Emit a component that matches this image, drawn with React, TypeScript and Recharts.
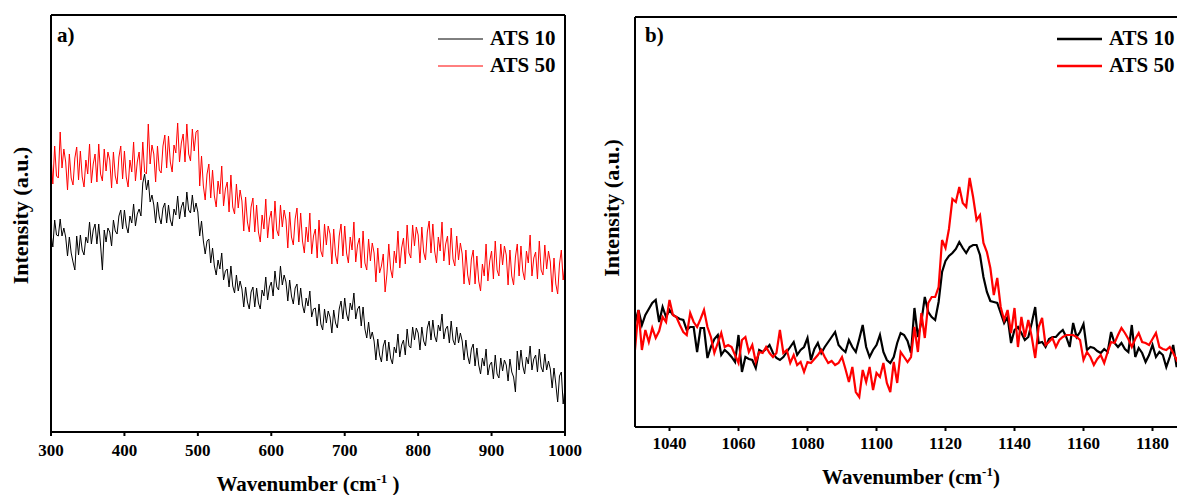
import React from 'react';
import { LineChart, Line, XAxis, YAxis, Legend, Label } from 'recharts';

const SERIF = '"Liberation Serif", "Times New Roman", serif';

// panel a) survey spectrum, 300-1000 cm-1, one sample every 2.5 cm-1
const waveStartA = 300;
const waveStepA = 2.5;
const ats10A = [
  198, 185, 212, 197, 196, 213, 196, 204, 195, 176, 195, 179, 170, 162, 196, 177,
  197, 182, 177, 195, 189, 210, 188, 202, 208, 188, 208, 187, 162, 202, 190, 204,
  200, 186, 212, 201, 198, 216, 222, 203, 222, 206, 199, 216, 209, 228, 206, 218,
  223, 216, 249, 258, 242, 252, 230, 237, 227, 209, 230, 215, 208, 224, 229, 209,
  227, 212, 206, 223, 217, 236, 213, 225, 230, 215, 240, 222, 219, 237, 220, 229,
  220, 196, 211, 191, 178, 191, 193, 169, 184, 166, 157, 172, 163, 179, 152, 161,
  163, 145, 166, 146, 139, 157, 141, 151, 143, 125, 145, 130, 123, 140, 145, 125,
  144, 129, 123, 142, 136, 155, 132, 145, 150, 136, 161, 145, 142, 166, 147, 157,
  150, 131, 152, 136, 128, 144, 148, 127, 144, 127, 119, 134, 126, 141, 115, 123,
  124, 106, 128, 108, 102, 123, 109, 121, 115, 99, 122, 109, 104, 123, 131, 113,
  134, 118, 111, 129, 122, 139, 113, 123, 126, 106, 125, 103, 94, 110, 93, 100,
  91, 72, 93, 77, 70, 86, 92, 71, 90, 74, 68, 85, 79, 98, 75, 87,
  92, 77, 103, 86, 84, 105, 92, 104, 99, 82, 105, 91, 86, 104, 111, 92,
  112, 96, 90, 107, 101, 118, 93, 103, 106, 89, 111, 92, 87, 105, 89, 99,
  91, 72, 92, 76, 68, 83, 88, 66, 84, 67, 58, 74, 66, 83, 57, 67,
  70, 53, 77, 58, 54, 74, 61, 72, 67, 51, 73, 60, 55, 40, 81, 62,
  82, 66, 58, 75, 68, 86, 62, 73, 77, 60, 83, 65, 60, 78, 62, 71,
  63, 44, 64, 48, 30, 56, 60, 28, 44,
];
const ats50A = [
  276, 248, 286, 256, 254, 300, 264, 283, 270, 242, 278, 254, 247, 274, 285, 252,
  281, 255, 245, 272, 258, 288, 249, 268, 278, 250, 288, 258, 251, 283, 261, 280,
  272, 244, 280, 256, 248, 275, 286, 253, 281, 255, 245, 272, 260, 290, 251, 270,
  280, 252, 290, 260, 258, 308, 268, 287, 278, 250, 286, 262, 259, 286, 297, 264,
  296, 270, 260, 287, 279, 309, 270, 289, 298, 270, 308, 278, 271, 303, 281, 300,
  302, 246, 276, 246, 232, 258, 268, 234, 262, 236, 225, 251, 238, 266, 226, 243,
  250, 220, 257, 225, 218, 248, 224, 242, 231, 201, 235, 210, 200, 225, 234, 200,
  227, 200, 190, 217, 203, 233, 194, 213, 221, 193, 231, 202, 196, 227, 205, 222,
  212, 184, 220, 195, 187, 213, 224, 190, 219, 191, 179, 205, 190, 219, 178, 196,
  203, 174, 212, 181, 175, 208, 187, 206, 198, 168, 203, 177, 168, 196, 208, 176,
  206, 179, 169, 195, 182, 210, 170, 187, 194, 164, 201, 169, 162, 193, 171, 189,
  179, 150, 184, 159, 166, 178, 140, 158, 188, 163, 154, 181, 169, 201, 164, 184,
  194, 168, 207, 179, 174, 207, 186, 205, 197, 169, 205, 180, 172, 200, 211, 179,
  208, 181, 169, 195, 181, 210, 171, 188, 196, 167, 204, 173, 166, 196, 172, 189,
  178, 148, 182, 157, 147, 173, 182, 148, 176, 151, 141, 168, 156, 188, 151, 171,
  181, 153, 191, 162, 156, 188, 167, 186, 177, 147, 182, 156, 147, 175, 188, 156,
  186, 161, 152, 181, 169, 197, 156, 174, 180, 153, 191, 162, 157, 187, 163, 181,
  170, 140, 174, 148, 138, 168, 182, 152, 168,
];
const ticksA = [300, 400, 500, 600, 700, 800, 900, 1000];

// panel b) zoom on the 1120 band, one sample per cm-1
const waveStartB = 1030;
const waveStepB = 1;
const ats10B = [
  104, 117, 102, 112, 118, 124, 127, 105, 120, 110,
  117, 112, 110, 108, 107, 97, 100, 100, 75, 99,
  99, 69, 80, 88, 92, 72, 77, 74, 70, 65,
  92, 55, 70, 68, 67, 59, 77, 75, 78, 82,
  74, 69, 67, 70, 75, 80, 85, 72, 77, 80,
  89, 67, 78, 84, 74, 80, 85, 90, 95, 82,
  78, 75, 87, 80, 75, 88, 102, 80, 70, 77,
  82, 92, 75, 67, 64, 70, 84, 94, 92, 86,
  74, 119, 90, 105, 130, 115, 110, 107, 125, 155,
  166, 171, 174, 178, 185, 179, 174, 180, 182, 182,
  172, 150, 135, 126, 125, 124, 114, 104, 110, 84,
  97, 100, 94, 87, 90, 104, 120, 84, 85, 80,
  88, 90, 90, 94, 97, 90, 80, 104, 90, 95,
  103, 77, 80, 79, 76, 74, 78, 75, 95, 84,
  80, 84, 78, 75, 102, 70, 79, 74, 65, 72,
  82, 70, 75, 72, 60, 70, 82, 60, 70, 66, 72,
];
const ats50B = [
  77, 117, 77, 97, 85, 99, 89, 96, 110, 105,
  127, 112, 110, 102, 95, 92, 114, 105, 100, 108,
  117, 100, 90, 74, 84, 94, 80, 82, 80, 72,
  64, 87, 90, 75, 82, 65, 75, 74, 80, 74,
  70, 74, 97, 74, 77, 64, 72, 62, 65, 55,
  65, 64, 68, 72, 77, 70, 64, 66, 62, 64,
  70, 58, 45, 60, 35, 30, 57, 45, 60, 37,
  54, 50, 64, 44, 35, 65, 44, 75, 70, 65,
  70, 100, 75, 114, 89, 124, 130, 130, 140, 187,
  179, 198, 228, 225, 240, 224, 220, 249, 230, 207,
  212, 184, 175, 159, 132, 149, 120, 107, 117, 94,
  119, 80, 110, 90, 107, 90, 69, 100, 109, 82,
  85, 89, 80, 87, 90, 92, 92, 92, 90, 87,
  67, 75, 70, 62, 68, 72, 64, 75, 85, 84,
  92, 99, 94, 88, 80, 88, 94, 85, 84, 82,
  88, 94, 80, 78, 77, 80, 74, 67, 75, 70, 72,
];
const ticksB = [1040, 1060, 1080, 1100, 1120, 1140, 1160, 1180];

const seriesNames = ['ATS 10', 'ATS 50'];
const seriesColors = ['#000000', '#ff0000'];

const buildRows = (start: number, step: number, s10: number[], s50: number[]) =>
  s10.map((v, i) => ({ w: start + i * step, ats10: v, ats50: s50[i] }));

const rowsA = buildRows(waveStartA, waveStepA, ats10A, ats50A);
const rowsB = buildRows(waveStartB, waveStepB, ats10B, ats50B);

const frame = { stroke: '#000', strokeWidth: 2 };

// recharts' own tick text ignored the serif family, so draw the label ourselves
const TickLabel = ({ x, y, payload }: any) => (
  <text x={x} y={y} dy="0.71em" textAnchor="middle" fill="#000" fontSize={17} fontWeight="bold" fontFamily={SERIF}>
    {payload.value}
  </text>
);

const LegendBox = ({ payload, lineWidth }: any) => (
  <div>
    {(payload || []).map((item: any) => (
      <div key={item.value} style={{ display: 'flex', alignItems: 'center', height: 27 }}>
        <svg width={45} height={6}>
          <line x1={0} x2={45} y1={3} y2={3} stroke={item.color} strokeWidth={lineWidth} />
        </svg>
        <span style={{ marginLeft: 7, fontFamily: SERIF, fontWeight: 'bold', fontSize: 21, color: '#000', lineHeight: '27px' }}>
          {item.value}
        </span>
      </div>
    ))}
  </div>
);

const xTitle = (spaceBeforeParen: boolean, drop: number) => (props: any) => {
  const vb = props.viewBox || { x: 0, y: 0, width: 0 };
  return (
    <text x={vb.x + vb.width / 2} y={vb.y + drop} textAnchor="middle" fontFamily={SERIF} fontWeight="bold" fontSize={21} fill="#000">
      Wavenumber (cm
      <tspan dy={-8} fontSize={13}>-1</tspan>
      <tspan dy={8}>{spaceBeforeParen ? ' )' : ')'}</tspan>
    </text>
  );
};

const yTitle = (dx: number, dy: number) => (props: any) => {
  const vb = props.viewBox || { x: 0, y: 0, width: 0, height: 0 };
  const cx = vb.x + vb.width - dx;
  const cy = vb.y + vb.height / 2 + dy;
  return (
    <text x={cx} y={cy} transform={`rotate(-90 ${cx} ${cy})`} textAnchor="middle" dominantBaseline="central"
      fontFamily={SERIF} fontWeight="bold" fontSize={22} fill="#000">
      Intensity (a.u.)
    </text>
  );
};

const panelTag: React.CSSProperties = {
  position: 'absolute', fontFamily: SERIF, fontWeight: 'bold', fontSize: 21, color: '#000', lineHeight: '21px',
};

const App = () => (
  <div style={{ position: 'fixed', left: 0, top: 0, width: 1177, height: 495, overflow: 'hidden', background: '#fff', fontFamily: SERIF, fontWeight: 'bold' }}>
    <div style={{ position: 'absolute', left: 0, top: 0 }}>
      <LineChart width={600} height={495} data={rowsA} margin={{ top: 14, right: 34, left: 50, bottom: 33 }}>
        <XAxis dataKey="w" type="number" domain={[300, 1000]} ticks={ticksA} allowDataOverflow height={30}
          axisLine={frame} tickLine={frame} tickSize={4} tickMargin={8} tick={<TickLabel />}>
          <Label content={xTitle(true, 59)} />
        </XAxis>
        <XAxis xAxisId="top" orientation="top" type="number" domain={[300, 1000]} height={1}
          axisLine={frame} tick={false} tickLine={false} />
        <YAxis type="number" domain={[0, 417]} width={1} axisLine={frame} tick={false} tickLine={false}>
          <Label content={yTitle(31, -8)} />
        </YAxis>
        <YAxis yAxisId="right" orientation="right" type="number" domain={[0, 417]} width={1}
          axisLine={frame} tick={false} tickLine={false} />
        <Line dataKey="ats10" name={seriesNames[0]} stroke={seriesColors[0]} strokeWidth={1} dot={false} isAnimationActive={false} />
        <Line dataKey="ats50" name={seriesNames[1]} stroke={seriesColors[1]} strokeWidth={1} dot={false} isAnimationActive={false} />
        <Legend layout="vertical" align="center" verticalAlign="middle"
          wrapperStyle={{ left: 438, top: 25, width: 140 }}
          content={(p: any) => <LegendBox {...p} lineWidth={1} />} />
      </LineChart>
      <div style={{ ...panelTag, left: 57, top: 25 }}>a)</div>
    </div>
    <div style={{ position: 'absolute', left: 600, top: 0 }}>
      <LineChart width={600} height={495} data={rowsB} margin={{ top: 16, right: 12, left: 34, bottom: 38 }}>
        <XAxis dataKey="w" type="number" domain={[1030, 1190]} ticks={ticksB} allowDataOverflow height={30}
          axisLine={frame} tickLine={frame} tickSize={4} tickMargin={6} tick={<TickLabel />}>
          <Label content={xTitle(false, 57)} />
        </XAxis>
        <XAxis xAxisId="top" orientation="top" type="number" domain={[1030, 1190]} height={1}
          axisLine={frame} tick={false} tickLine={false} />
        <YAxis type="number" domain={[0, 410]} width={1} axisLine={frame} tick={false} tickLine={false}>
          <Label content={yTitle(24, -14)} />
        </YAxis>
        <YAxis yAxisId="right" orientation="right" type="number" domain={[0, 410]} width={1}
          axisLine={frame} tick={false} tickLine={false} />
        <Line dataKey="ats10" name={seriesNames[0]} stroke={seriesColors[0]} strokeWidth={2.2} dot={false} isAnimationActive={false} />
        <Line dataKey="ats50" name={seriesNames[1]} stroke={seriesColors[1]} strokeWidth={2.2} dot={false} isAnimationActive={false} />
        <Legend layout="vertical" align="center" verticalAlign="middle"
          wrapperStyle={{ left: 457, top: 25, width: 140 }}
          content={(p: any) => <LegendBox {...p} lineWidth={2.5} />} />
      </LineChart>
      <div style={{ ...panelTag, left: 45, top: 25 }}>b)</div>
    </div>
  </div>
);

export default App;
